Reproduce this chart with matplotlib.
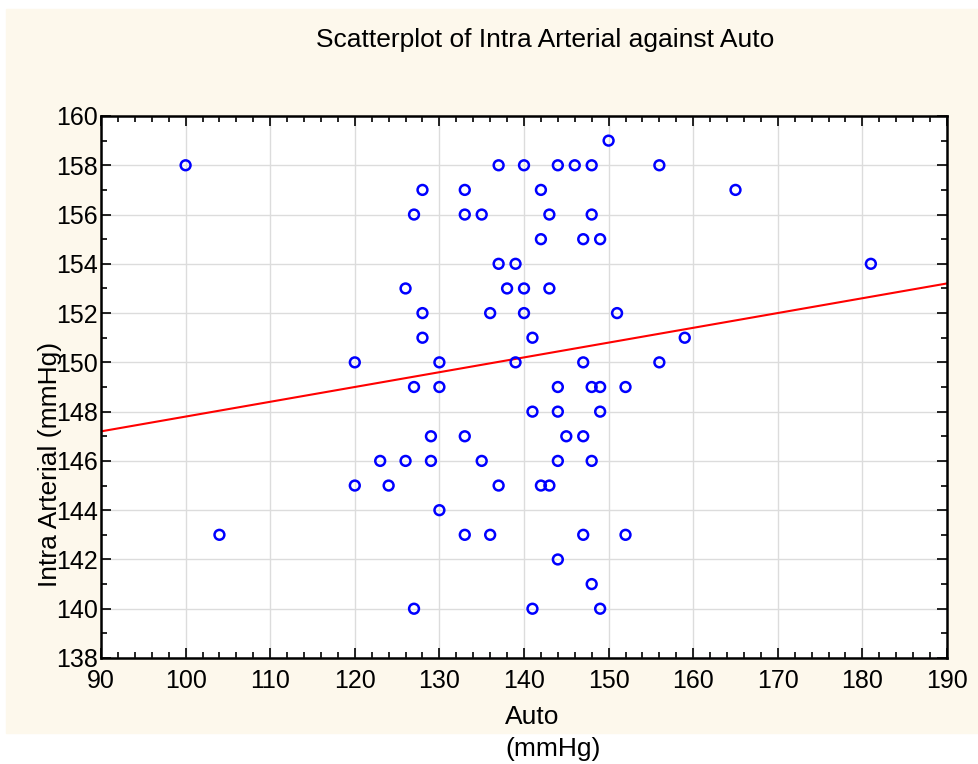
import matplotlib.pyplot as plt
import numpy as np

plt.rcParams['font.family'] = ['Liberation Sans', 'DejaVu Sans']

# readings (Auto, Intra Arterial), grouped by Intra Arterial value
auto = [150,
        100, 137, 140, 144, 146, 148, 156,
        128, 133, 142, 165,
        127, 133, 135, 143, 148,
        142, 147, 149,
        137, 139, 181,
        126, 138, 140, 143,
        128, 136, 140, 151,
        128, 141, 159,
        120, 130, 139, 147, 156,
        127, 130, 144, 148, 149, 152,
        141, 144, 149,
        129, 133, 145, 147,
        123, 126, 129, 135, 144, 148,
        120, 124, 137, 142, 143,
        130,
        104, 133, 136, 147, 152,
        144,
        148,
        127, 141, 149]
intra = [159,
         158, 158, 158, 158, 158, 158, 158,
         157, 157, 157, 157,
         156, 156, 156, 156, 156,
         155, 155, 155,
         154, 154, 154,
         153, 153, 153, 153,
         152, 152, 152, 152,
         151, 151, 151,
         150, 150, 150, 150, 150,
         149, 149, 149, 149, 149, 149,
         148, 148, 148,
         147, 147, 147, 147,
         146, 146, 146, 146, 146, 146,
         145, 145, 145, 145, 145,
         144,
         143, 143, 143, 143, 143,
         142,
         141,
         140, 140, 140]

x = np.array(auto, dtype=float)
y = np.array(intra, dtype=float)
slope, icpt = np.polyfit(x, y, 1)

fig = plt.figure(figsize=(9.79, 7.64), dpi=100)
fig.patches.append(plt.Rectangle((6 / 979, 1 - 733 / 764), 1, (733 - 9) / 764,
                                 transform=fig.transFigure, color='#fdf8ec', zorder=-10))
ax = fig.add_axes([101 / 979, 1 - 658 / 764, 846 / 979, 542 / 764])

ax.grid(True, color='#dcdcdc', linewidth=1)
ax.set_axisbelow(True)
ax.scatter(x, y, s=50, facecolors='none', edgecolors='#0000ff', linewidths=1.8, zorder=3)
xl = np.array([90, 190])
ax.plot(xl, icpt + slope * xl, color='#ff0000', linewidth=1.5, zorder=2)

ax.set_xlim(90, 190)
ax.set_ylim(138, 160)
ax.set_xticks(np.arange(90, 191, 10))
ax.set_xticks(np.arange(90, 191, 2), minor=True)
ax.set_yticks(np.arange(138, 161, 2))
ax.set_yticks(np.arange(138, 161, 1), minor=True)
ax.tick_params(which='both', direction='in', top=True, right=True, labelsize=18, width=1.2)
ax.tick_params(which='major', length=7)
ax.tick_params(which='minor', length=4)
ax.tick_params(axis='x', which='major', pad=8)
ax.tick_params(axis='y', which='major', pad=2)
for s in ax.spines.values():
    s.set_linewidth(1.8)

fig.text(545 / 979, 1 - 40 / 764, 'Scatterplot of Intra Arterial against Auto',
         ha='center', va='center', fontsize=19)
fig.text(505 / 979, 1 - 717 / 764, 'Auto', ha='left', va='center', fontsize=19)
fig.text(505 / 979, 1 - 749 / 764, '(mmHg)', ha='left', va='center', fontsize=19)
fig.text(50 / 979, 1 - 464 / 764, 'Intra Arterial (mmHg)', ha='center', va='center',
         rotation=90, fontsize=19)

fig.savefig('out.png', dpi=100)
